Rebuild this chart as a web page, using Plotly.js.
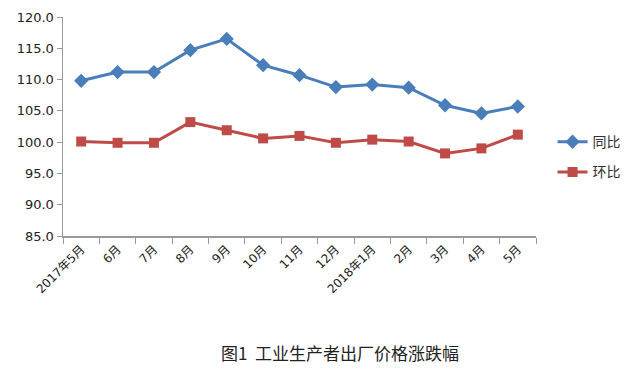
<!DOCTYPE html>
<html><head><meta charset="utf-8">
<script src="https://cdn.plot.ly/plotly-3.0.1.min.js"></script>
<style>html,body{margin:0;padding:0;background:#fff;}#chart{width:638px;height:369px;}</style>
</head><body><div id="chart"></div>
<script>
const categories = ["2017年5月","6月","7月","8月","9月","10月","11月","12月","2018年1月","2月","3月","4月","5月"];
const tongbi = [109.8,111.2,111.2,114.7,116.5,112.3,110.7,108.8,109.2,108.7,105.9,104.6,105.7];
const huanbi = [100.1,99.9,99.9,103.2,101.9,100.6,101.0,99.9,100.4,100.1,98.2,99.0,101.2];
const yTicks = [85,90,95,100,105,110,115,120];

const traces = [
  {x: categories, y: tongbi, name: "同比", legendgroup: "a", type: "scatter", mode: "lines+markers",
   line: {color: "#4A7EBB", width: 3}, marker: {symbol: "diamond", size: 11, color: "#4A7EBB"}},
  {x: categories, y: huanbi, name: "环比", legendgroup: "b", type: "scatter", mode: "lines+markers",
   line: {color: "#BE4B48", width: 3}, marker: {symbol: "square", size: 10, color: "#BE4B48"}}
];
const layout = {
  width: 638, height: 369,
  margin: {l: 63, r: 95, t: 17, b: 133},
  paper_bgcolor: "#fff", plot_bgcolor: "#fff",
  font: {family: "DejaVu Sans, Noto Sans CJK SC, sans-serif", size: 12, color: "#333"},
  showlegend: true,
  legend: {x: 1.035, y: 0.36, xanchor: "left", yanchor: "middle", traceorder: "grouped",
           font: {size: 14, family: "Noto Sans CJK SC", color: "#333"}, tracegroupgap: 9, bgcolor: "rgba(0,0,0,0)"},
  xaxis: {type: "category", range: [-0.5, 12.5], showline: true, linecolor: "#999", linewidth: 1.5,
          ticks: "outside", tickson: "boundaries", ticklen: 6, tickcolor: "#999", tickangle: -45,
          showgrid: false, zeroline: false, tickfont: {size: 12, family: "DejaVu Sans, Noto Sans CJK SC", color: "#222"}},
  yaxis: {range: [85, 120], tickvals: yTicks, tickformat: ".1f", showline: true, linecolor: "#999", linewidth: 1.5,
          ticks: "outside", ticklen: 5, tickcolor: "#999", showgrid: false, zeroline: false,
          tickfont: {size: 13, family: "DejaVu Sans", color: "#222"}},
  annotations: [{text: "图1  工业生产者出厂价格涨跌幅", xref: "paper", yref: "paper", x: 0.585, y: 0, yshift: -116,
                 xanchor: "center", yanchor: "middle", showarrow: false,
                 font: {size: 17, family: "Noto Sans CJK SC", color: "#222"}}]
};
Plotly.newPlot("chart", traces, layout, {displayModeBar: false, staticPlot: true});
</script></body></html>
